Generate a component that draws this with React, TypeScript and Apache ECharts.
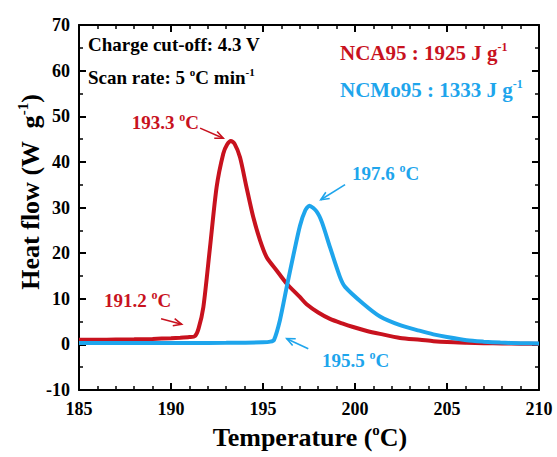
import React, { useEffect, useRef } from "react";
import * as echarts from "echarts";

// Temperature (°C) and heat flow (W g-1)
const nca95Temp = [185, 186, 187, 188, 189, 190, 190.5, 191, 191.3, 191.5, 191.76, 192.12, 192.48, 192.84, 193.05, 193.25, 193.45, 193.75, 194.1, 194.47, 194.84, 195.2, 195.74, 196.29, 197.0, 197.37, 198.0, 198.64, 199.3, 199.9, 200.6, 201.36, 202.45, 203.53, 204.26, 205, 206.07, 207, 208, 209, 210];
const nca95Flow = [1.0, 1.0, 1.05, 1.1, 1.2, 1.35, 1.45, 1.6, 1.8, 3.5, 8.2, 21.3, 34.5, 41.8, 43.8, 44.6, 44.0, 41.0, 34.5, 27.9, 22.8, 19.1, 16.2, 13.3, 10.4, 8.8, 7.0, 5.6, 4.6, 3.8, 3.0, 2.3, 1.4, 1.0, 0.7, 0.5, 0.35, 0.25, 0.2, 0.15, 0.15];

const ncmo95Temp = [185, 188, 191, 193, 195, 195.4, 195.6, 195.92, 196.29, 196.65, 197.01, 197.3, 197.52, 197.9, 198.2, 198.64, 199.18, 199.46, 200.45, 201.36, 202.45, 203.5, 204.26, 205, 206.07, 207, 207.9, 209, 210];
const ncmo95Flow = [0.3, 0.3, 0.3, 0.35, 0.45, 0.6, 1.0, 5.3, 12.6, 19.5, 26.0, 29.4, 30.4, 29.2, 26.8, 21.3, 14.8, 12.6, 8.9, 6.1, 4.2, 3.0, 2.2, 1.6, 0.9, 0.6, 0.4, 0.25, 0.2];

// Annotation arrows: [fromT, fromQ, toT, toQ]
const ncaArrows = [
  [191.58, 47.4, 192.84, 45.2],
  [189.46, 5.6, 190.58, 4.4],
];
const ncmoArrows = [
  [199.46, 35.0, 198.14, 31.7],
  [197.46, -0.95, 196.29, 1.25],
];

const xTicks = { min: 185, max: 210, interval: 5 };
const yTicks = { min: -10, max: 70, interval: 10 };

const RED = "#c8121e";
const BLUE = "#1ea5ec";
const FONT = "'Liberation Serif', 'Times New Roman', serif";

const pairs = (xs: number[], ys: number[]) => xs.map((x, i) => [x, ys[i]]);

const arrowSeries = (data: number[][], color: string) => ({
  type: "custom",
  data,
  silent: true,
  z: 5,
  renderItem: (params: any, api: any) => {
    const p1 = api.coord([api.value(0), api.value(1)]);
    const p2 = api.coord([api.value(2), api.value(3)]);
    const ang = Math.atan2(p2[1] - p1[1], p2[0] - p1[0]);
    const L = 9;
    const a = 0.42;
    const h1 = [p2[0] - L * Math.cos(ang - a), p2[1] - L * Math.sin(ang - a)];
    const h2 = [p2[0] - L * Math.cos(ang + a), p2[1] - L * Math.sin(ang + a)];
    return {
      type: "group",
      children: [
        { type: "line", shape: { x1: p1[0], y1: p1[1], x2: p2[0], y2: p2[1] }, style: { stroke: color, lineWidth: 1.6 } },
        { type: "polyline", shape: { points: [h1, p2, h2] }, style: { stroke: color, lineWidth: 1.6, fill: null } },
      ],
    };
  },
});

const supRich = (color: string, size: number, supSize: number, lift: number) => ({
  n: { fontSize: size, fontWeight: "bold", fontFamily: FONT, fill: color, color },
  s: { fontSize: supSize, fontWeight: "bold", fontFamily: FONT, fill: color, color, padding: [0, 0, lift, 0] },
});

const label = (x: number, y: number, text: string, color: string, size: number, supSize: number, lift: number, align = "left") => ({
  type: "text",
  x,
  y,
  z: 10,
  style: {
    text,
    fill: color,
    font: `bold ${size}px ${FONT}`,
    align,
    verticalAlign: "middle",
    rich: supRich(color, size, supSize, lift),
  },
});

export default function App() {
  const ref = useRef<HTMLDivElement>(null);
  useEffect(() => {
    document.body.style.margin = "0";
    const chart = echarts.init(ref.current!, null, { renderer: "svg" });
    const axisLabel = { color: "#000", fontSize: 18, fontWeight: "bold", fontFamily: FONT };
    const axisLine = { show: true, onZero: false, lineStyle: { color: "#000", width: 2 } };
    const tick = { show: true, inside: true, length: 7, lineStyle: { width: 2, color: "#000" } };
    chart.setOption({
      animation: false,
      grid: { left: 79, right: 18, top: 25, bottom: 67, containLabel: false },
      xAxis: [
        {
          type: "value", ...xTicks, position: "bottom", axisLine, axisTick: tick,
          minorTick: { show: true, splitNumber: 5, length: 4, lineStyle: { width: 1.5, color: "#000" } },
          axisLabel: { ...axisLabel, margin: 10 }, splitLine: { show: false },
        },
        {
          type: "value", ...xTicks, position: "top", axisLine, axisTick: tick,
          minorTick: { show: true, splitNumber: 5, length: 4, lineStyle: { width: 1.5, color: "#000" } },
          axisLabel: { show: false }, splitLine: { show: false },
        },
      ],
      yAxis: [
        {
          type: "value", ...yTicks, position: "left", axisLine, axisTick: tick,
          minorTick: { show: true, splitNumber: 2, length: 4, lineStyle: { width: 1.5, color: "#000" } },
          axisLabel: { ...axisLabel, margin: 9 }, splitLine: { show: false },
        },
        {
          type: "value", ...yTicks, position: "right", axisLine, axisTick: tick,
          minorTick: { show: true, splitNumber: 2, length: 4, lineStyle: { width: 1.5, color: "#000" } },
          axisLabel: { show: false }, splitLine: { show: false },
        },
      ],
      series: [
        {
          name: "NCA95", type: "line", data: pairs(nca95Temp, nca95Flow), showSymbol: false,
          smooth: 0.25, lineStyle: { color: RED, width: 4 }, itemStyle: { color: RED }, z: 3,
        },
        {
          name: "NCMo95", type: "line", data: pairs(ncmo95Temp, ncmo95Flow), showSymbol: false,
          smooth: 0.25, lineStyle: { color: BLUE, width: 4 }, itemStyle: { color: BLUE }, z: 4,
        },
        arrowSeries(ncaArrows, RED),
        arrowSeries(ncmoArrows, BLUE),
      ],
      graphic: [
        label(88, 44, "{n|Charge cut-off: 4.3 V}", "#000", 19, 11, 10),
        label(88, 77, "{n|Scan rate: 5 }{s|o}{n|C min}{s|-1}", "#000", 19, 11, 10),
        label(340, 53, "{n|NCA95 : 1925 J g}{s|-1}", RED, 21, 12, 12),
        label(340, 90, "{n|NCMo95 : 1333 J g}{s|-1}", BLUE, 21, 12, 12),
        label(199, 122, "{n|193.3 }{s|o}{n|C}", RED, 19, 12, 11, "right"),
        label(104, 300, "{n|191.2 }{s|o}{n|C}", RED, 19, 12, 11),
        label(352, 173, "{n|197.6 }{s|o}{n|C}", BLUE, 19, 12, 11),
        label(322, 360, "{n|195.5 }{s|o}{n|C}", BLUE, 19, 12, 11),
        label(310, 437, "{n|Temperature (}{s|o}{n|C)}", "#000", 26, 15, 15, "center"),
        {
          type: "text", x: 30, y: 192, rotation: Math.PI / 2, z: 10,
          style: {
            text: "{n|Heat flow (W  g}{s|-1}{n|)}",
            fill: "#000", font: `bold 26px ${FONT}`, align: "center", verticalAlign: "middle",
            rich: supRich("#000", 26, 15, 15),
          },
        },
      ],
    });
    return () => chart.dispose();
  }, []);
  return <div ref={ref} style={{ width: 557, height: 457 }} />;
}
